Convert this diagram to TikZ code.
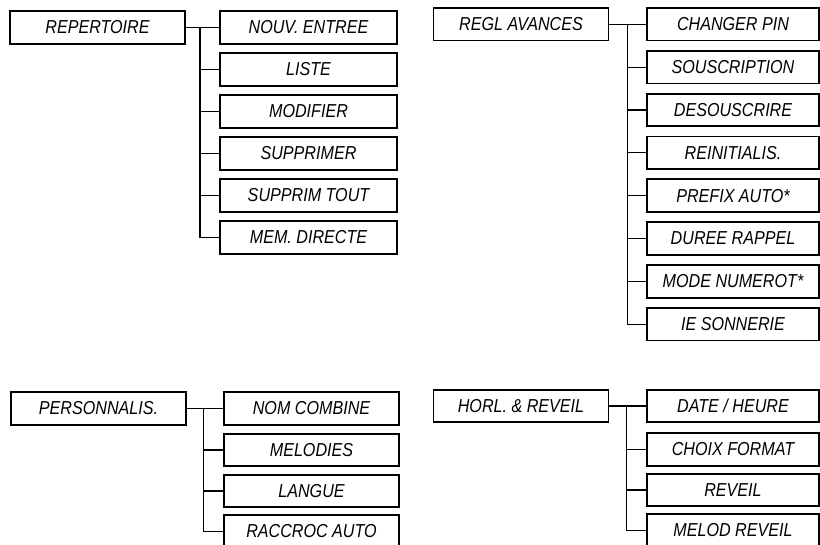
\documentclass[tikz,border=0pt]{standalone}
\usepackage{fontspec}
\setmainfont{Liberation Sans}[FakeStretch=0.86]
\usetikzlibrary{positioning,calc}

\begin{document}
\begin{tikzpicture}[x=0.03cm,y=-0.03cm,
    font=\fontsize{16}{18}\selectfont\itshape,
    menubox/.style={draw,line width=1.5pt,inner sep=0pt,
                    minimum height=0.98cm},
    topbox/.style={menubox,minimum width=5.25cm},
    subbox/.style={menubox,minimum width=5.3cm},
    link/.style={line width=1pt}]
  \useasboundingbox (0,0) rectangle (820,545);
  \clip (0,0) rectangle (820,545);
  % Repertoire
  \node[topbox] (rep) at (97.5,27.5) {REPERTOIRE};
  \node[subbox] (nouv) at (308.5,27.5) {NOUV. ENTREE};
  \node[subbox] (liste) at (308.5,69.5) {LISTE};
  \node[subbox] (modif) at (308.5,111.5) {MODIFIER};
  \node[subbox] (suppr) at (308.5,153.5) {SUPPRIMER};
  \node[subbox] (supall) at (308.5,195.5) {SUPPRIM TOUT};
  \node[subbox] (memdir) at (308.5,237.5) {MEM. DIRECTE};
  \coordinate (repT) at ($(rep.east)!0.42!(nouv.west)$);
  \draw[link] (rep.east) -- (nouv.west);
  \draw[link] (repT) |- (memdir.west);
  \draw[link] (liste.west) -- (liste.west -| repT);
  \draw[link] (modif.west) -- (modif.west -| repT);
  \draw[link] (suppr.west) -- (suppr.west -| repT);
  \draw[link] (supall.west) -- (supall.west -| repT);
  % Reglages avances
  \node[topbox] (regl) at (521,24.2) {REGL AVANCES};
  \node[subbox,minimum width=5.16cm] (pin) at (733,24.2) {CHANGER PIN};
  \node[subbox,minimum width=5.16cm] (sousc) at (733,67.1) {SOUSCRIPTION};
  \node[subbox,minimum width=5.16cm] (desousc) at (733,110) {DESOUSCRIRE};
  \node[subbox,minimum width=5.16cm] (reinit) at (733,152.9) {REINITIALIS.};
  \node[subbox,minimum width=5.16cm] (prefix) at (733,195.7) {PREFIX AUTO*};
  \node[subbox,minimum width=5.16cm] (duree) at (733,238.5) {DUREE RAPPEL};
  \node[subbox,minimum width=5.16cm] (numerot) at (733,281.3) {MODE NUMEROT*};
  \node[subbox,minimum width=5.16cm] (sonn) at (733,324.1) {IE SONNERIE};
  \coordinate (reglT) at ($(regl.east)!0.5!(pin.west)$);
  \draw[link] (regl.east) -- (pin.west);
  \draw[link] (reglT) |- (sonn.west);
  \draw[link] (sousc.west) -- (sousc.west -| reglT);
  \draw[link] (desousc.west) -- (desousc.west -| reglT);
  \draw[link] (reinit.west) -- (reinit.west -| reglT);
  \draw[link] (prefix.west) -- (prefix.west -| reglT);
  \draw[link] (duree.west) -- (duree.west -| reglT);
  \draw[link] (numerot.west) -- (numerot.west -| reglT);
  % Personnalisation
  \node[topbox] (pers) at (98.5,408.5) {PERSONNALIS.};
  \node[subbox,minimum width=5.25cm] (nom) at (311.5,408.5) {NOM COMBINE};
  \node[subbox,minimum width=5.25cm] (melod) at (311.5,450) {MELODIES};
  \node[subbox,minimum width=5.25cm] (langue) at (311.5,491) {LANGUE};
  \node[subbox,minimum width=5.25cm] (raccroc) at (311.5,531.5) {RACCROC AUTO};
  \coordinate (persT) at ($(pers.east)!0.45!(nom.west)$);
  \draw[link] (pers.east) -- (nom.west);
  \draw[link] (persT) |- (raccroc.west);
  \draw[link] (melod.west) -- (melod.west -| persT);
  \draw[link] (langue.west) -- (langue.west -| persT);
  % Horloge et reveil
  \node[topbox] (horl) at (521,406) {HORL. \& REVEIL};
  \node[subbox,minimum width=5.16cm] (date) at (733,406) {DATE / HEURE};
  \node[subbox,minimum width=5.16cm] (format) at (733,449.5) {CHOIX FORMAT};
  \node[subbox,minimum width=5.16cm] (reveil) at (733,490) {REVEIL};
  \node[subbox,minimum width=5.16cm] (melrev) at (733,530.5) {MELOD REVEIL};
  \coordinate (horlT) at ($(horl.east)!0.47!(date.west)$);
  \draw[link] (horl.east) -- (date.west);
  \draw[link] (horlT) |- (melrev.west);
  \draw[link] (format.west) -- (format.west -| horlT);
  \draw[link] (reveil.west) -- (reveil.west -| horlT);
\end{tikzpicture}
\end{document}
